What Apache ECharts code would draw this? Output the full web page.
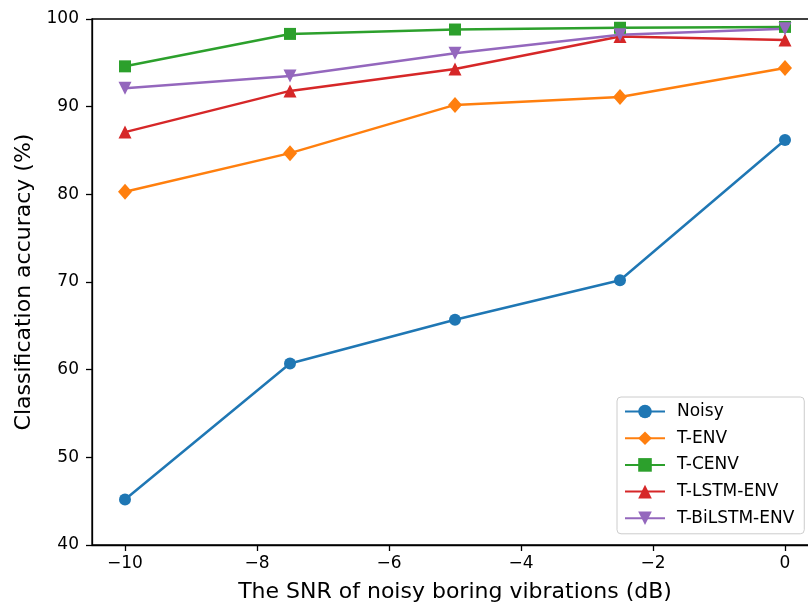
<!DOCTYPE html>
<html>
<head>
<meta charset="utf-8">
<script src="https://cdn.jsdelivr.net/npm/echarts@6/dist/echarts.min.js"></script>
<style>html,body{margin:0;padding:0;background:#fff}#c{width:808px;height:607px}</style>
</head>
<body>
<div id="c"></div>
<script>
const snr = [-10, -7.5, -5, -2.5, 0];
const xTicks = [-10, -8, -6, -4, -2, 0];
const yTicks = [40, 50, 60, 70, 80, 90, 100];
const noisy = [45.2, 60.7, 65.7, 70.2, 86.2];
const tEnv = [80.3, 84.7, 90.2, 91.1, 94.4];
const tCenv = [94.6, 98.3, 98.8, 99.0, 99.1];
const tLstmEnv = [87.1, 91.8, 94.3, 98.0, 97.6];
const tBiLstmEnv = [92.1, 93.5, 96.1, 98.2, 98.9];
const seriesNames = ['Noisy', 'T-ENV', 'T-CENV', 'T-LSTM-ENV', 'T-BiLSTM-ENV'];

const FONT = 'DejaVu Sans';
const pair = v => snr.map((x, i) => [x, v[i]]);
const fmt = v => String(v).replace('-', '\u2212');

const mk = (name, data, color, symbol, size, rot) => ({
  name, type: 'line', data: pair(data), clip: false,
  symbol, symbolSize: size, symbolRotate: rot || 0,
  lineStyle: { color, width: 2.5 },
  itemStyle: { color, borderWidth: 0 },
  emphasis: { disabled: true }, animation: false
});

const chart = echarts.init(document.getElementById('c'), null, { renderer: 'canvas' });
chart.setOption({
  animation: false,
  textStyle: { fontFamily: FONT },
  grid: { left: 92, top: 19, width: 726, height: 526, containLabel: false, outerBoundsMode: 'none', show: true, borderColor: '#000', borderWidth: 1.3, backgroundColor: 'transparent' },
  xAxis: {
    type: 'value', min: -10.5, max: 0.5,
    name: 'The SNR of noisy boring vibrations (dB)', nameLocation: 'middle', nameGap: 36,
    nameTextStyle: { fontSize: 22, color: '#000', fontFamily: FONT },
    axisLine: { show: true, onZero: false, lineStyle: { color: '#000', width: 1.3 } },
    axisTick: { show: true, customValues: xTicks, length: 6, inside: false, lineStyle: { color: '#000', width: 1.3 } },
    axisLabel: { customValues: xTicks, formatter: fmt, fontSize: 17, color: '#000', margin: 10, fontFamily: FONT },
    splitLine: { show: false }
  },
  yAxis: {
    type: 'value', min: 40, max: 100, interval: 10,
    name: 'Classification accuracy (%)', nameLocation: 'middle', nameGap: 54, nameRotate: 90,
    nameTextStyle: { fontSize: 22, color: '#000', fontFamily: FONT },
    axisLine: { show: true, onZero: false, lineStyle: { color: '#000', width: 1.3 } },
    axisTick: { show: true, customValues: yTicks, length: 6, lineStyle: { color: '#000', width: 1.3 } },
    axisLabel: { customValues: yTicks, fontSize: 17, color: '#000', margin: 13, fontFamily: FONT },
    splitLine: { show: false }
  },
  legend: {
    orient: 'vertical', left: 617, top: 397,
    data: seriesNames,
    itemWidth: 40, itemHeight: 17, itemGap: 9.7,
    padding: [6, 10, 7, 7],
    backgroundColor: 'rgba(255,255,255,0.8)', borderColor: '#cccccc', borderWidth: 1, borderRadius: 4,
    textStyle: { fontSize: 17, color: '#000', fontFamily: FONT, padding: [0, 0, 0, 7] },
    selectedMode: false
  },
  series: [
    mk(seriesNames[0], noisy, '#1f77b4', 'circle', 12),
    mk(seriesNames[1], tEnv, '#ff7f0e', 'diamond', [14, 16]),
    mk(seriesNames[2], tCenv, '#2ca02c', 'rect', 12),
    mk(seriesNames[3], tLstmEnv, '#d62728', 'triangle', 13),
    mk(seriesNames[4], tBiLstmEnv, '#9467bd', 'triangle', 13, 180)
  ]
});
</script>
</body>
</html>
